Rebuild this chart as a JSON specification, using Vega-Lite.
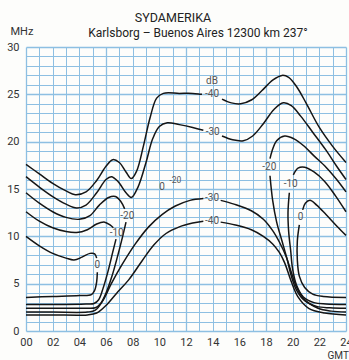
{
  "$schema": "https://vega.github.io/schema/vega-lite/v6.json",
  "width": 320,
  "height": 284,
  "autosize": "none",
  "padding": {"left": 26, "top": 47, "right": 3, "bottom": 29},
  "background": "#fdfdfb",
  "config": {"font": "Roboto", "view": {"stroke": null}},
  "title": {
    "text": "SYDAMERIKA\u2800\u2800\u2800\u2800\u2800",
    "subtitle": "Karlsborg – Buenos Aires 12300 km 237°",
    "anchor": "middle",
    "frame": "group",
    "dx": 12,
    "fontSize": 12.5,
    "fontWeight": "normal",
    "color": "#222",
    "subtitleFontSize": 12,
    "subtitleColor": "#222",
    "subtitlePadding": 4,
    "offset": -14
  },
  "datasets": {
    "lines": [
      {"s":"A1","i":1,"h":0,"f":17.6},{"s":"A1","i":2,"h":1,"f":16.6},{"s":"A1","i":3,"h":2,"f":15.6},{"s":"A1","i":4,"h":3,"f":14.8},{"s":"A1","i":5,"h":3.7,"f":14.4},{"s":"A1","i":6,"h":4.5,"f":14.7},{"s":"A1","i":7,"h":5.3,"f":15.9},{"s":"A1","i":8,"h":6.0,"f":17.4},{"s":"A1","i":9,"h":6.5,"f":18.1},{"s":"A1","i":10,"h":7.0,"f":17.8},{"s":"A1","i":11,"h":7.5,"f":16.8},{"s":"A1","i":12,"h":7.9,"f":16.1},{"s":"A1","i":13,"h":8.3,"f":16.9},{"s":"A1","i":14,"h":8.8,"f":19.5},{"s":"A1","i":15,"h":9.3,"f":22.5},{"s":"A1","i":16,"h":9.8,"f":24.6},{"s":"A1","i":17,"h":10.3,"f":25.1},{"s":"A1","i":18,"h":11.5,"f":25.1},{"s":"A1","i":19,"h":12.5,"f":25.1},{"s":"A1","i":20,"h":13.2,"f":25.0},
      {"s":"A2","i":1,"h":14.7,"f":24.5},{"s":"A2","i":2,"h":15.4,"f":24.1},{"s":"A2","i":3,"h":16.1,"f":24.0},{"s":"A2","i":4,"h":16.9,"f":24.4},{"s":"A2","i":5,"h":17.7,"f":25.4},{"s":"A2","i":6,"h":18.5,"f":26.5},{"s":"A2","i":7,"h":19.2,"f":27.0},{"s":"A2","i":8,"h":19.7,"f":26.8},{"s":"A2","i":9,"h":20.3,"f":25.8},{"s":"A2","i":10,"h":21.0,"f":24.1},{"s":"A2","i":11,"h":22.0,"f":21.5},{"s":"A2","i":12,"h":23.0,"f":19.5},{"s":"A2","i":13,"h":24,"f":17.8},
      {"s":"B1","i":1,"h":0,"f":16.3},{"s":"B1","i":2,"h":1,"f":15.2},{"s":"B1","i":3,"h":2,"f":14.2},{"s":"B1","i":4,"h":3,"f":13.4},{"s":"B1","i":5,"h":3.8,"f":13.0},{"s":"B1","i":6,"h":4.5,"f":13.3},{"s":"B1","i":7,"h":5.3,"f":14.6},{"s":"B1","i":8,"h":6.0,"f":16.0},{"s":"B1","i":9,"h":6.4,"f":16.3},{"s":"B1","i":10,"h":6.9,"f":15.8},{"s":"B1","i":11,"h":7.5,"f":14.6},{"s":"B1","i":12,"h":7.9,"f":14.1},{"s":"B1","i":13,"h":8.4,"f":15.2},{"s":"B1","i":14,"h":9.0,"f":17.8},{"s":"B1","i":15,"h":9.5,"f":20.3},{"s":"B1","i":16,"h":10.0,"f":21.6},{"s":"B1","i":17,"h":10.6,"f":22.0},{"s":"B1","i":18,"h":11.5,"f":21.8},{"s":"B1","i":19,"h":12.5,"f":21.5},{"s":"B1","i":20,"h":13.3,"f":21.2},
      {"s":"B2","i":1,"h":14.7,"f":20.6},{"s":"B2","i":2,"h":15.5,"f":20.2},{"s":"B2","i":3,"h":16.3,"f":20.1},{"s":"B2","i":4,"h":17.0,"f":20.6},{"s":"B2","i":5,"h":17.8,"f":21.9},{"s":"B2","i":6,"h":18.6,"f":23.4},{"s":"B2","i":7,"h":19.3,"f":24.1},{"s":"B2","i":8,"h":19.9,"f":23.8},{"s":"B2","i":9,"h":20.6,"f":22.7},{"s":"B2","i":10,"h":21.5,"f":21.0},{"s":"B2","i":11,"h":22.5,"f":19.1},{"s":"B2","i":12,"h":23.3,"f":17.4},{"s":"B2","i":13,"h":24,"f":16.0},
      {"s":"C1","i":1,"h":0,"f":14.6},{"s":"C1","i":2,"h":1,"f":13.5},{"s":"C1","i":3,"h":2,"f":12.6},{"s":"C1","i":4,"h":3,"f":12.0},{"s":"C1","i":5,"h":4,"f":11.8},{"s":"C1","i":6,"h":4.8,"f":12.2},{"s":"C1","i":7,"h":5.5,"f":13.3},{"s":"C1","i":8,"h":6.2,"f":14.1},{"s":"C1","i":9,"h":6.7,"f":14.2},{"s":"C1","i":10,"h":7.1,"f":13.7},{"s":"C1","i":11,"h":7.4,"f":12.9},
      {"s":"C2","i":1,"h":7.5,"f":11.5},{"s":"C2","i":2,"h":7.25,"f":10.0},{"s":"C2","i":3,"h":6.85,"f":7.8},{"s":"C2","i":4,"h":6.45,"f":5.8},{"s":"C2","i":5,"h":6.0,"f":4.0},{"s":"C2","i":6,"h":5.6,"f":2.9},{"s":"C2","i":7,"h":5.2,"f":2.45},{"s":"C2","i":8,"h":4.5,"f":2.4},{"s":"C2","i":9,"h":2,"f":2.4},{"s":"C2","i":10,"h":0,"f":2.4},
      {"s":"D1","i":1,"h":0,"f":12.6},{"s":"D1","i":2,"h":1,"f":11.6},{"s":"D1","i":3,"h":2,"f":10.9},{"s":"D1","i":4,"h":3,"f":10.5},{"s":"D1","i":5,"h":3.8,"f":10.4},{"s":"D1","i":6,"h":4.6,"f":10.7},{"s":"D1","i":7,"h":5.3,"f":11.3},{"s":"D1","i":8,"h":5.9,"f":11.5},{"s":"D1","i":9,"h":6.3,"f":11.2},{"s":"D1","i":10,"h":6.55,"f":10.9},
      {"s":"D2","i":1,"h":6.75,"f":9.7},{"s":"D2","i":2,"h":6.5,"f":8.3},{"s":"D2","i":3,"h":6.15,"f":6.3},{"s":"D2","i":4,"h":5.8,"f":4.6},{"s":"D2","i":5,"h":5.45,"f":3.3},{"s":"D2","i":6,"h":5.1,"f":2.9},{"s":"D2","i":7,"h":4.5,"f":2.85},{"s":"D2","i":8,"h":2,"f":2.8},{"s":"D2","i":9,"h":0,"f":2.8},
      {"s":"E1","i":1,"h":0,"f":10.0},{"s":"E1","i":2,"h":1,"f":9.0},{"s":"E1","i":3,"h":2,"f":8.2},{"s":"E1","i":4,"h":3,"f":7.7},{"s":"E1","i":5,"h":3.6,"f":7.5},{"s":"E1","i":6,"h":4.2,"f":7.8},{"s":"E1","i":7,"h":4.8,"f":8.2},{"s":"E1","i":8,"h":5.15,"f":8.15},{"s":"E1","i":9,"h":5.3,"f":7.7},
      {"s":"E2","i":1,"h":5.35,"f":6.2},{"s":"E2","i":2,"h":5.3,"f":5.2},{"s":"E2","i":3,"h":5.15,"f":4.3},{"s":"E2","i":4,"h":4.9,"f":3.85},{"s":"E2","i":5,"h":4,"f":3.75},{"s":"E2","i":6,"h":2,"f":3.65},{"s":"E2","i":7,"h":0,"f":3.55},
      {"s":"F1","i":1,"h":0,"f":2.0},{"s":"F1","i":2,"h":2,"f":2.0},{"s":"F1","i":3,"h":4.6,"f":2.0},{"s":"F1","i":4,"h":5.2,"f":2.2},{"s":"F1","i":5,"h":5.8,"f":3.3},{"s":"F1","i":6,"h":6.4,"f":5.0},{"s":"F1","i":7,"h":7.2,"f":7.0},{"s":"F1","i":8,"h":8.2,"f":9.2},{"s":"F1","i":9,"h":9.2,"f":11.0},{"s":"F1","i":10,"h":10.2,"f":12.3},{"s":"F1","i":11,"h":11.2,"f":13.2},{"s":"F1","i":12,"h":12.3,"f":13.8},{"s":"F1","i":13,"h":13.3,"f":14.0},
      {"s":"F2","i":1,"h":14.6,"f":13.8},{"s":"F2","i":2,"h":15.6,"f":13.4},{"s":"F2","i":3,"h":16.9,"f":12.7},{"s":"F2","i":4,"h":17.8,"f":11.8},{"s":"F2","i":5,"h":18.5,"f":10.6},{"s":"F2","i":6,"h":19.0,"f":9.4},{"s":"F2","i":7,"h":19.5,"f":7.9},{"s":"F2","i":8,"h":19.9,"f":6.2},{"s":"F2","i":9,"h":20.3,"f":4.6},{"s":"F2","i":10,"h":20.9,"f":3.3},{"s":"F2","i":11,"h":21.9,"f":2.4},{"s":"F2","i":12,"h":22.9,"f":2.1},{"s":"F2","i":13,"h":24,"f":2.0},
      {"s":"G1","i":1,"h":0,"f":1.7},{"s":"G1","i":2,"h":2,"f":1.7},{"s":"G1","i":3,"h":4.6,"f":1.7},{"s":"G1","i":4,"h":5.3,"f":1.9},{"s":"G1","i":5,"h":6.0,"f":2.7},{"s":"G1","i":6,"h":6.8,"f":4.0},{"s":"G1","i":7,"h":7.7,"f":5.4},{"s":"G1","i":8,"h":8.7,"f":7.4},{"s":"G1","i":9,"h":9.6,"f":9.1},{"s":"G1","i":10,"h":10.5,"f":10.3},{"s":"G1","i":11,"h":11.5,"f":11.0},{"s":"G1","i":12,"h":12.5,"f":11.4},{"s":"G1","i":13,"h":13.3,"f":11.6},
      {"s":"G2","i":1,"h":14.6,"f":11.5},{"s":"G2","i":2,"h":15.7,"f":11.2},{"s":"G2","i":3,"h":16.9,"f":10.7},{"s":"G2","i":4,"h":17.8,"f":10.0},{"s":"G2","i":5,"h":18.5,"f":9.2},{"s":"G2","i":6,"h":19.0,"f":8.3},{"s":"G2","i":7,"h":19.4,"f":7.2},{"s":"G2","i":8,"h":19.9,"f":5.2},{"s":"G2","i":9,"h":20.4,"f":3.6},{"s":"G2","i":10,"h":21.2,"f":2.4},{"s":"G2","i":11,"h":22.4,"f":1.9},{"s":"G2","i":12,"h":24,"f":1.7},
      {"s":"H1","i":1,"h":24,"f":10.1},{"s":"H1","i":2,"h":23.3,"f":11.1},{"s":"H1","i":3,"h":22.5,"f":12.3},{"s":"H1","i":4,"h":21.8,"f":13.3},{"s":"H1","i":5,"h":21.3,"f":13.8},{"s":"H1","i":6,"h":20.95,"f":13.5},{"s":"H1","i":7,"h":20.75,"f":12.8},
      {"s":"H2","i":1,"h":20.5,"f":11.2},{"s":"H2","i":2,"h":20.35,"f":9.5},{"s":"H2","i":3,"h":20.35,"f":7.5},{"s":"H2","i":4,"h":20.5,"f":5.8},{"s":"H2","i":5,"h":20.9,"f":4.6},{"s":"H2","i":6,"h":21.5,"f":3.9},{"s":"H2","i":7,"h":22.3,"f":3.65},{"s":"H2","i":8,"h":24,"f":3.55},
      {"s":"I1","i":1,"h":24,"f":12.6},{"s":"I1","i":2,"h":23.2,"f":14.3},{"s":"I1","i":3,"h":22.4,"f":15.8},{"s":"I1","i":4,"h":21.6,"f":16.8},{"s":"I1","i":5,"h":20.9,"f":17.3},{"s":"I1","i":6,"h":20.4,"f":17.2},{"s":"I1","i":7,"h":20.05,"f":16.5},
      {"s":"I2","i":1,"h":19.75,"f":14.6},{"s":"I2","i":2,"h":19.65,"f":12.5},{"s":"I2","i":3,"h":19.7,"f":10.5},{"s":"I2","i":4,"h":19.85,"f":8.5},{"s":"I2","i":5,"h":20.0,"f":6.5},{"s":"I2","i":6,"h":20.3,"f":4.8},{"s":"I2","i":7,"h":20.8,"f":3.6},{"s":"I2","i":8,"h":21.6,"f":3.0},{"s":"I2","i":9,"h":22.5,"f":2.85},{"s":"I2","i":10,"h":24,"f":2.8},
      {"s":"J1","i":1,"h":24,"f":14.7},{"s":"J1","i":2,"h":23.3,"f":16.0},{"s":"J1","i":3,"h":22.5,"f":17.3},{"s":"J1","i":4,"h":21.6,"f":18.5},{"s":"J1","i":5,"h":20.8,"f":19.6},{"s":"J1","i":6,"h":20.1,"f":20.3},{"s":"J1","i":7,"h":19.4,"f":20.6},{"s":"J1","i":8,"h":18.8,"f":20.1},{"s":"J1","i":9,"h":18.45,"f":19.0},{"s":"J1","i":10,"h":18.3,"f":18.2},
      {"s":"J2","i":1,"h":18.3,"f":16.4},{"s":"J2","i":2,"h":18.5,"f":13.8},{"s":"J2","i":3,"h":18.8,"f":11.5},{"s":"J2","i":4,"h":19.2,"f":9.5},{"s":"J2","i":5,"h":19.6,"f":7.5},{"s":"J2","i":6,"h":19.9,"f":5.8},{"s":"J2","i":7,"h":20.3,"f":4.3},{"s":"J2","i":8,"h":20.9,"f":3.2},{"s":"J2","i":9,"h":21.8,"f":2.6},{"s":"J2","i":10,"h":22.8,"f":2.45},{"s":"J2","i":11,"h":24,"f":2.4}
    ],
    "labels": [
      {"t":"dB","h":13.95,"f":26.4},
      {"t":"-40","h":13.95,"f":25.0},
      {"t":"-30","h":14.0,"f":21.0},
      {"t":"-20","h":7.6,"f":12.2},
      {"t":"-10","h":6.8,"f":10.4},
      {"t":"0","h":5.35,"f":6.95},
      {"t":"0","h":10.2,"f":15.2},
      {"t":"-30","h":13.95,"f":14.0},
      {"t":"-40","h":13.95,"f":11.6},
      {"t":"-20","h":18.25,"f":17.3},
      {"t":"-10","h":19.85,"f":15.5},
      {"t":"0","h":20.6,"f":12.0}
    ],
    "sup": [
      {"t":"-20","h":11.2,"f":16.0}
    ]
  },
  "encoding": {
    "x": {
      "field": "h", "type": "quantitative",
      "scale": {"domain": [0, 24], "nice": false, "zero": false},
      "axis": {
        "values": [0,1,2,3,4,5,6,7,8,9,10,11,12,13,14,15,16,17,18,19,20,21,22,23,24],
        "labelExpr": "datum.value % 2 == 0 ? (datum.value < 10 ? '0' + datum.value : '' + datum.value) : ''",
        "labelOverlap": false, "labelFlush": false,
        "grid": true, "gridColor": "#8dbfe2",
        "gridWidth": {"condition": {"test": "datum.value % 6 == 0", "value": 1.3}, "value": 1},
        "domain": false, "ticks": false,
        "labelPadding": 5, "labelFontSize": 11, "labelColor": "#333",
        "title": "GMT", "titleX": 301, "titleY": 27, "titleAlign": "left", "titleBaseline": "alphabetic",
        "titleFontWeight": "normal", "titleFontSize": 10, "titleColor": "#333"
      }
    },
    "y": {
      "field": "f", "type": "quantitative",
      "scale": {"domain": [0, 30], "nice": false},
      "axis": {
        "values": [0,1,2,3,4,5,6,7,8,9,10,11,12,13,14,15,16,17,18,19,20,21,22,23,24,25,26,27,28,29,30],
        "labelExpr": "datum.value % 5 == 0 ? '' + datum.value : ''",
        "labelOverlap": false, "labelFlush": false,
        "grid": true, "gridColor": "#8dbfe2",
        "gridWidth": {"condition": {"test": "datum.value % 5 == 0", "value": 1.4}, "value": 1},
        "domain": false, "ticks": false,
        "labelPadding": 7, "labelFontSize": 11, "labelColor": "#333",
        "title": "MHz", "titleAngle": 0, "titleX": -16, "titleY": -16, "titleAlign": "left", "titleBaseline": "middle",
        "titleFontWeight": "normal", "titleFontSize": 11, "titleColor": "#333"
      }
    }
  },
  "layer": [
    {
      "data": {"name": "lines"},
      "mark": {"type": "line", "interpolate": "catmull-rom", "color": "#151515", "strokeWidth": 1.5},
      "encoding": {
        "detail": {"field": "s", "type": "nominal"},
        "order": {"field": "i", "type": "quantitative"}
      }
    },
    {
      "data": {"name": "labels"},
      "mark": {"type": "text", "fontSize": 10, "color": "#555", "baseline": "middle", "align": "center"},
      "encoding": {"text": {"field": "t", "type": "nominal"}}
    },
    {
      "data": {"name": "sup"},
      "mark": {"type": "text", "fontSize": 8.5, "color": "#555", "baseline": "middle", "align": "center"},
      "encoding": {"text": {"field": "t", "type": "nominal"}}
    }
  ]
}
